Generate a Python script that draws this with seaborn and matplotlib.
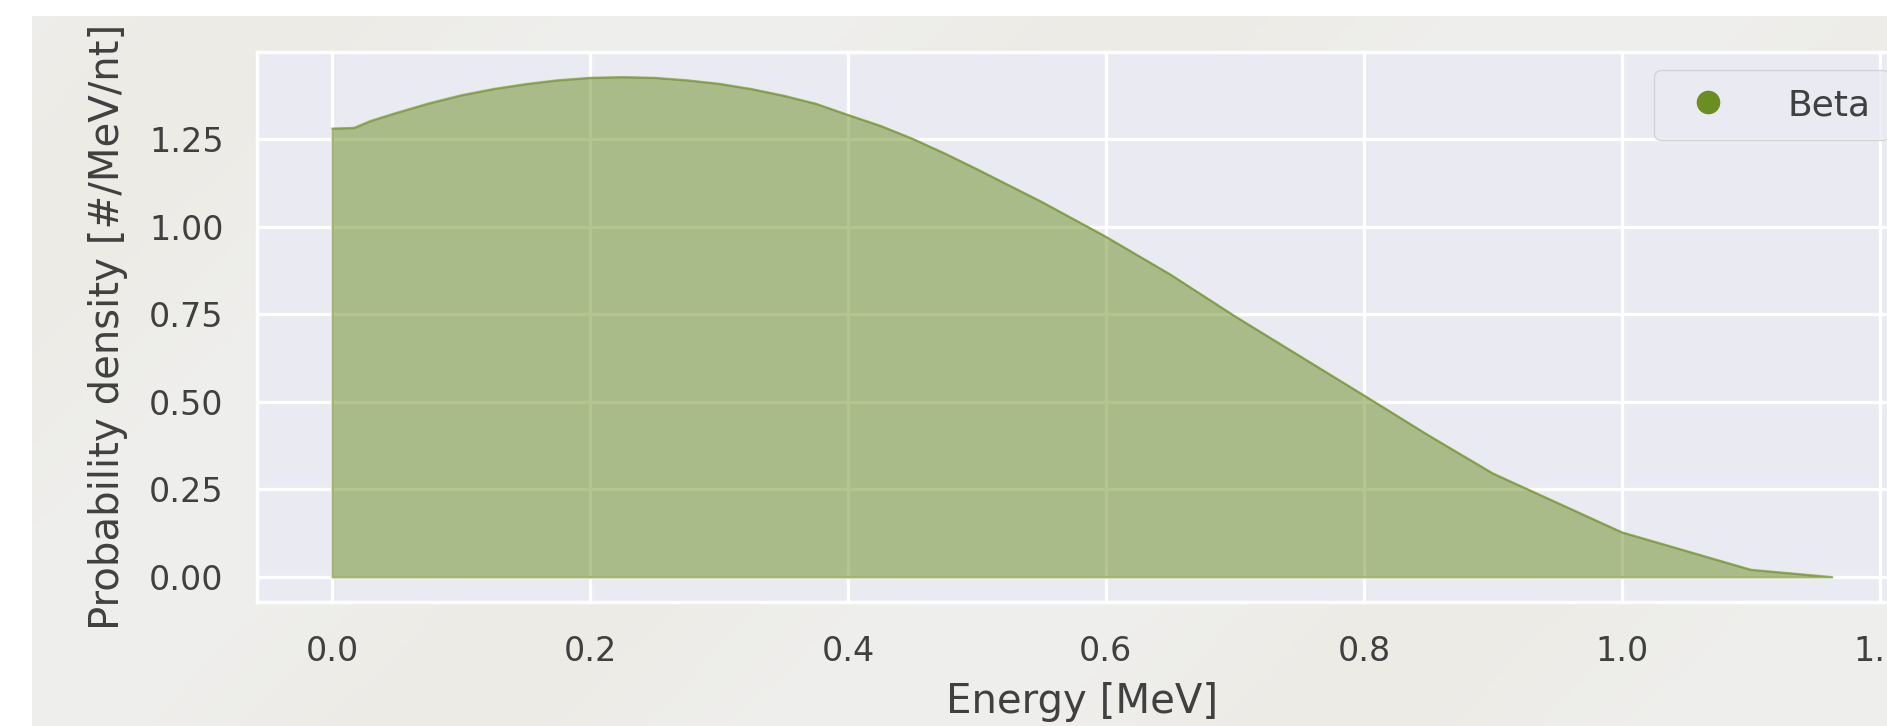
import numpy as np
import matplotlib
matplotlib.use("Agg")
import matplotlib.pyplot as plt
from matplotlib.lines import Line2D
from matplotlib.ticker import MultipleLocator, FormatStrFormatter
import seaborn as sns

# beta spectrum
energy = [0.0, 0.017, 0.03, 0.05, 0.075, 0.1, 0.125, 0.15, 0.175, 0.2, 0.225,
          0.25, 0.275, 0.3, 0.325, 0.35, 0.375, 0.4, 0.425, 0.45, 0.475, 0.5,
          0.55, 0.6, 0.65, 0.7, 0.75, 0.8, 0.85, 0.9, 1.0, 1.1, 1.163]
density = [1.281, 1.283, 1.303, 1.326, 1.353, 1.376, 1.394, 1.408, 1.419, 1.426,
           1.428, 1.426, 1.419, 1.409, 1.394, 1.375, 1.352, 1.32, 1.289, 1.252,
           1.21, 1.165, 1.072, 0.972, 0.864, 0.745, 0.632, 0.519, 0.405,
           0.296, 0.128, 0.021, 0.0]
series_label = "Beta"
x_label = "Energy [MeV]"
y_label = "Probability density [#/MeV/nt]"

sns.set_theme(style="darkgrid")
plt.rcParams['font.family'] = ['DejaVu Sans']
text_col = '.25'

W, H = 1887, 726
fig = plt.figure(figsize=(W / 100, H / 100), dpi=100, facecolor='white')

# slide-like background behind the chart
bg = fig.add_axes([32 / W, 0, 1 - 32 / W, (H - 16) / H], zorder=-5)
gx, gy = np.meshgrid(np.linspace(0, 1, 400), np.linspace(0, 1, 160))
d = gx * 2.6 + gy
tint = 0.5 + 0.5 * np.sin(d * 5.0)
base = np.array([239, 239, 238]) / 255
beige = np.array([235, 233, 225]) / 255
img = base + (beige - base) * tint[..., None] * 0.6
bg.imshow(img, aspect='auto', extent=[0, 1, 0, 1])
bg.axis('off')

ax = fig.add_axes([257 / W, (H - 602) / H, 1650 / W, 550 / H])

sns.lineplot(x=energy, y=density, ax=ax, color='olivedrab', alpha=0.5, lw=1.5)
ax.fill_between(energy, density, 0, color='olivedrab', alpha=0.5,
                edgecolor='olivedrab', lw=1.5)

xpad = 0.05 * (max(energy) - min(energy))
ypad = 0.05 * (max(density) - min(density))
ax.set_xlim(min(energy) - xpad, max(energy) + xpad)
ax.set_ylim(min(density) - ypad, max(density) + ypad)

ax.xaxis.set_major_locator(MultipleLocator(0.2))
ax.yaxis.set_major_locator(MultipleLocator(0.25))
ax.xaxis.set_major_formatter(FormatStrFormatter('%.1f'))
ax.yaxis.set_major_formatter(FormatStrFormatter('%.2f'))
ax.tick_params(labelsize=24, pad=24, colors=text_col, length=0)
ax.grid(color='white', lw=2.3)
for s in ax.spines.values():
    s.set_color('white')
    s.set_linewidth(2.5)

ax.set_xlabel(x_label, fontsize=29, color=text_col)
ax.set_ylabel(y_label, fontsize=29, color=text_col)
ax.xaxis.set_label_coords(0.5, -0.145)
ax.yaxis.set_label_coords(-0.078, 0.5)

handle = Line2D([], [], marker='o', ls='', color='olivedrab', markersize=16,
                label=series_label)
ax.legend(handles=[handle], loc='upper right', fontsize=26, labelcolor=text_col,
          handletextpad=1.2, borderpad=0.5)

plt.savefig("out.png", dpi=100, facecolor=fig.get_facecolor())
